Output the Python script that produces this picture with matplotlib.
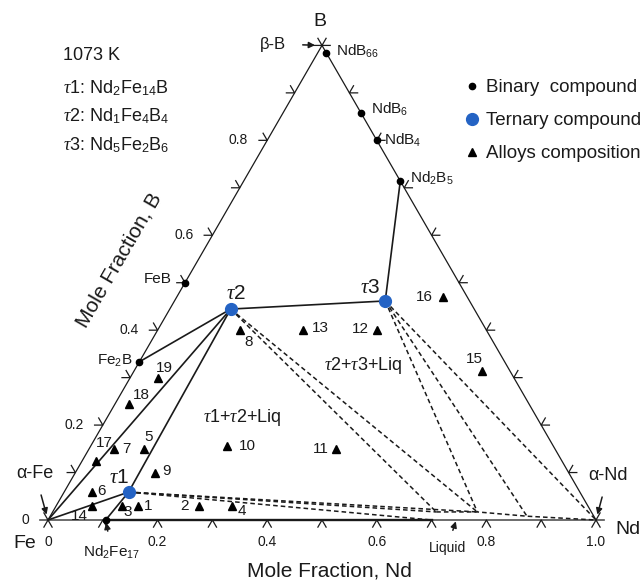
import numpy as np
import matplotlib.pyplot as plt
from matplotlib.lines import Line2D

plt.rcParams['font.family'] = ['Liberation Sans', 'DejaVu Sans']
plt.rcParams['mathtext.fontset'] = 'custom'
plt.rcParams['mathtext.rm'] = 'Liberation Sans'
plt.rcParams['mathtext.it'] = 'Liberation Serif:italic'
plt.rcParams['mathtext.bf'] = 'Liberation Sans:bold'

# binary compounds (mole fraction Nd, mole fraction B)
binary_names = ['NdB$_{66}$', 'NdB$_6$', 'NdB$_4$', 'Nd$_2$B$_5$', 'FeB', 'Fe$_2$B', 'Nd$_2$Fe$_{17}$']
binary_nd = [1/67, 1/7, 1/5, 2/7, 0.0, 0.0, 2/19]
binary_b = [66/67, 6/7, 4/5, 5/7, 1/2, 1/3, 0.0]

# ternary compounds tau1..tau3
tau_labels = ['1', '2', '3']
tau_formula = ['Nd$_2$Fe$_{14}$B', 'Nd$_1$Fe$_4$B$_4$', 'Nd$_5$Fe$_2$B$_6$']
tau_nd = [2/17, 1/9, 5/13]
tau_b = [1/17, 4/9, 6/13]

# liquid compositions L0..L3 and pure Nd
liq_nd = [0.70, 0.70, 0.775, 0.87, 1.0]
liq_b = [0.0, 0.017, 0.017, 0.008, 0.0]

# alloy compositions 1..19
alloy_ids = list(range(1, 20))
alloy_nd = [0.15, 0.26, 0.12, 0.32, 0.10, 0.05, 0.045, 0.15, 0.145, 0.25,
            0.45, 0.40, 0.265, 0.065, 0.635, 0.485, 0.025, 0.025, 0.05]
alloy_b = [0.03, 0.03, 0.03, 0.03, 0.15, 0.06, 0.15, 0.40, 0.10, 0.155,
           0.15, 0.40, 0.40, 0.03, 0.315, 0.47, 0.125, 0.245, 0.30]

nd_ticks = [0, 0.2, 0.4, 0.6, 0.8, 1.0]
nd_tick_labels = ['0', '0.2', '0.4', '0.6', '0.8', '1.0']
b_ticks = [0, 0.2, 0.4, 0.6, 0.8]
b_tick_labels = ['0', '0.2', '0.4', '0.6', '0.8']

SQ = np.sqrt(3) / 2


def tern(nd, b):
    nd = np.asarray(nd, dtype=float)
    b = np.asarray(b, dtype=float)
    return nd + b / 2, b * SQ


W, H = 644, 583
ox, oy, side = 48, 520, 548
fig = plt.figure(figsize=(W / 100, H / 100), dpi=100)
ax = fig.add_axes([0, 0, 1, 1])
ax.set_xlim(-ox / side, (W - ox) / side)
ax.set_ylim(-(H - oy) / side, oy / side)
ax.axis('off')


def px(x, y):
    # figure pixel -> data coords, for placing free text
    return (x - ox) / side, (oy - y) / side


blue = '#2463c4'
ink = '#1a1a1a'

# triangle outline
tx, ty = tern([0, 1, 0, 0], [0, 0, 1, 0])
ax.plot(tx, ty, color=ink, lw=0.9, zorder=2)

# chevron ticks every 0.1 on all three sides
L = 0.015
for v in np.linspace(0, 1, 11):
    x0, y0 = tern(v, 0)
    ax.plot([x0 - L / 2, x0, x0 + L / 2], [y0 - L * SQ, y0, y0 - L * SQ], color=ink, lw=0.9)
    x0, y0 = tern(0, v)
    ax.plot([x0 - L, x0, x0 - L / 2], [y0, y0, y0 + L * SQ], color=ink, lw=0.9)
    x0, y0 = tern(1 - v, v)
    ax.plot([x0 + L, x0, x0 + L / 2], [y0, y0, y0 + L * SQ], color=ink, lw=0.9)

for v, lab in zip(nd_ticks, nd_tick_labels):
    ax.annotate(lab, tern(v, 0), xytext=(0, -22), textcoords='offset pixels',
                ha='center', va='center', fontsize=10, color=ink)
for v, lab in zip(b_ticks, b_tick_labels):
    ax.annotate(lab, tern(0, v), xytext=(-19, 0), textcoords='offset pixels',
                ha='right', va='center', fontsize=10, color=ink)

# named points for tie lines
pts = {'Fe': (0.0, 0.0), 'Nd': (1.0, 0.0)}
for key, n, b in zip(['NdB66', 'NdB6', 'NdB4', 'Nd2B5', 'FeB', 'Fe2B', 'Nd2Fe17'], binary_nd, binary_b):
    pts[key] = (n, b)
for i, (n, b) in enumerate(zip(tau_nd, tau_b)):
    pts['t%d' % (i + 1)] = (n, b)
for i, (n, b) in enumerate(zip(liq_nd, liq_b)):
    pts['L%d' % i] = (n, b)

solid_ties = [('Fe', 't1'), ('Fe', 't2'), ('Fe2B', 't2'), ('t1', 't2'),
              ('Nd2Fe17', 't1'), ('t2', 't3'), ('t3', 'Nd2B5')]
dashed_ties = [('t1', 'L0'), ('t1', 'L1'), ('t1', 'L2'), ('t2', 'L1'), ('t2', 'L2'),
               ('t3', 'L2'), ('t3', 'L3'), ('t3', 'L4')]

for a, b in solid_ties:
    x, y = tern([pts[a][0], pts[b][0]], [pts[a][1], pts[b][1]])
    ax.plot(x, y, color=ink, lw=1.2, zorder=3)
for a, b in dashed_ties:
    x, y = tern([pts[a][0], pts[b][0]], [pts[a][1], pts[b][1]])
    ax.plot(x, y, color=ink, lw=1.1, ls=(0, (3, 2)), zorder=3)

# liquid boundary
x, y = tern(liq_nd[1:], liq_b[1:])
ax.plot(x, y, color=ink, lw=1.1, ls=(0, (3, 2)), zorder=3)
# Nd2Fe17 + liquid along the Fe-Nd edge
x, y = tern([pts['Nd2Fe17'][0], liq_nd[0]], [0, 0])
ax.plot(x, y, color=ink, lw=1.7, zorder=3)

# markers
x, y = tern(binary_nd, binary_b)
ax.plot(x, y, 'o', color='black', ms=4.5, zorder=5)
x, y = tern(tau_nd, tau_b)
ax.plot(x, y, 'o', color=blue, ms=8.5, zorder=6)
x, y = tern(alloy_nd, alloy_b)
ax.plot(x, y, '^', color='black', ms=6, zorder=5)

# alloy numbers
alloy_off = [(10, 0), (-14, 0), (6, -6), (10, -5), (5, 12), (10, 1), (13, 0), (9, -12),
             (12, 2), (20, 0), (-15, 0), (-16, 1), (18, 2), (-12, -10), (-8, 12),
             (-18, 0), (8, 18), (13, 9), (7, 10)]
for i, n, b, off in zip(alloy_ids, alloy_nd, alloy_b, alloy_off):
    ax.annotate(str(i), tern(n, b), xytext=off, textcoords='offset pixels',
                ha='center', va='center', fontsize=11, color=ink)

# compound labels
bin_off = [(10, 1, 'left'), (10, 4, 'left'), (7, 0, 'left'), (10, 3, 'left'),
           (-13, 4, 'right'), (-7, 1, 'right')]
for name, n, b, (dx, dy, ha) in zip(binary_names[:6], binary_nd, binary_b, bin_off):
    ax.annotate(name, tern(n, b), xytext=(dx, dy), textcoords='offset pixels',
                ha=ha, va='center', fontsize=11, color=ink)
ax.annotate(binary_names[6], tern(binary_nd[6], binary_b[6]), xytext=(6, -32),
            textcoords='offset pixels', ha='center', va='center', fontsize=11, color=ink,
            arrowprops=dict(arrowstyle='-|>', color=ink, lw=1.1, mutation_scale=9,
                            shrinkA=7, shrinkB=2))

tau_off = [(-10, 15), (5, 16), (-15, 13)]
for lab, n, b, off in zip(tau_labels, tau_nd, tau_b, tau_off):
    ax.annotate(r'$\tau$' + lab, tern(n, b), xytext=off, textcoords='offset pixels',
                ha='center', va='center', fontsize=15, color=ink)

# corner and phase labels
ax.text(*px(320, 21), 'B', ha='center', va='center', fontsize=14, color=ink)
ax.text(*px(25, 543), 'Fe', ha='center', va='center', fontsize=14, color=ink)
ax.text(*px(628, 530), 'Nd', ha='center', va='center', fontsize=14, color=ink)

ax.annotate('β-B', tern(0, 1), xytext=px(273, 44), ha='center', va='center',
            fontsize=12, color=ink,
            arrowprops=dict(arrowstyle='-|>', color=ink, lw=1.1, mutation_scale=9,
                            shrinkA=10, shrinkB=5))
ax.annotate('α-Fe', tern(0, 0), xytext=px(35, 473), ha='center', va='center',
            fontsize=13, color=ink,
            arrowprops=dict(arrowstyle='-|>', color=ink, lw=1.1, mutation_scale=9,
                            shrinkA=8, shrinkB=4))
ax.annotate('α-Nd', tern(1, 0), xytext=px(608, 475), ha='center', va='center',
            fontsize=13, color=ink,
            arrowprops=dict(arrowstyle='-|>', color=ink, lw=1.1, mutation_scale=9,
                            shrinkA=8, shrinkB=4))
ax.annotate('Liquid', tern(0.745, 0), xytext=px(447, 548), ha='center', va='center',
            fontsize=10, color=ink,
            arrowprops=dict(arrowstyle='-|>', color=ink, lw=1.1, mutation_scale=9,
                            shrinkA=6, shrinkB=1))

ax.text(*px(242, 418), r'$\tau$1+$\tau$2+Liq', ha='center', va='center', fontsize=13, color=ink)
ax.text(*px(363, 365), r'$\tau$2+$\tau$3+Liq', ha='center', va='center', fontsize=13, color=ink)

ax.text(*px(329, 571), 'Mole Fraction, Nd', ha='center', va='center', fontsize=15, color=ink)
ax.text(*px(119, 260), 'Mole Fraction, B', ha='center', va='center', fontsize=15,
        color=ink, rotation=60, rotation_mode='anchor')

# temperature and phase key, top left
ax.text(*px(63, 55), '1073 K', ha='left', va='center', fontsize=13, color=ink)
for k, (lab, formula) in enumerate(zip(tau_labels, tau_formula)):
    ax.text(*px(63, 88 + 28.5 * k), r'$\tau$' + lab + ': ' + formula,
            ha='left', va='center', fontsize=13, color=ink)

handles = [Line2D([], [], marker='o', color='black', ls='none', ms=4.5),
           Line2D([], [], marker='o', color=blue, ls='none', ms=8.5),
           Line2D([], [], marker='^', color='black', ls='none', ms=6)]
ax.legend(handles, ['Binary  compound', 'Ternary compound', 'Alloys composition'],
          loc='upper left', bbox_to_anchor=(463 / W, 1 - 79 / H), frameon=False,
          fontsize=13.5, handlelength=1.0, handletextpad=0.2, labelspacing=0.85,
          borderpad=0, borderaxespad=0, labelcolor=ink)

fig.savefig('out.png', dpi=100)
